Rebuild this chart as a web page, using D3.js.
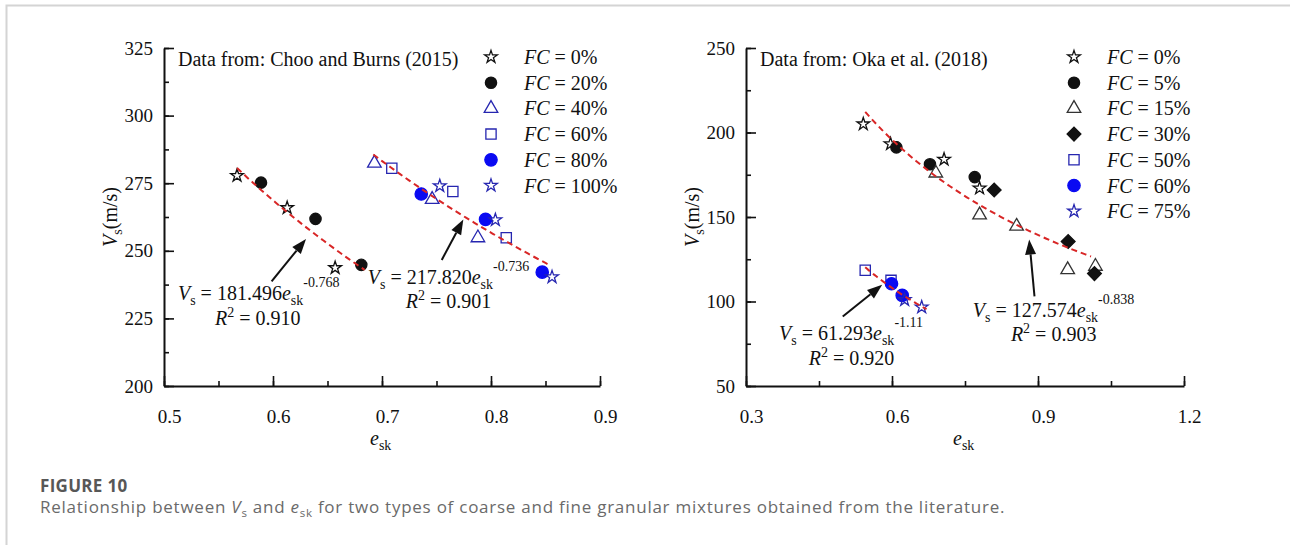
<!DOCTYPE html>
<html>
<head>
<meta charset="utf-8">
<script src="https://cdn.jsdelivr.net/npm/d3@7"></script>
<style>
  body { margin: 0; background: #fff; }
  svg text { font-family: "Liberation Serif", "Times New Roman", serif; fill: #111; }
  svg text.cap { font-family: "Open Sans", Lato, sans-serif; }
</style>
</head>
<body>
<svg id="fig" width="1290" height="545"></svg>
<script>
// Choo and Burns (2015) -- [e_sk, Vs (m/s)]
var chooFC0   = [[0.567, 277.8], [0.613, 265.9], [0.657, 243.7]];
var chooFC20  = [[0.589, 275.2], [0.639, 261.8], [0.681, 244.8]];
var chooFC40  = [[0.693, 282.4], [0.746, 269.0], [0.788, 254.8]];
var chooFC60  = [[0.709, 280.5], [0.765, 271.9], [0.814, 254.8]];
var chooFC80  = [[0.736, 271.0], [0.795, 261.6], [0.847, 242.1]];
var chooFC100 = [[0.753, 274.0], [0.804, 261.4], [0.856, 240.3]];
var chooLabels = ["0%", "20%", "40%", "60%", "80%", "100%"];

// Oka et al. (2018)
var okaFC0  = [[0.541, 205.0], [0.597, 193.2], [0.707, 184.1], [0.780, 167.0]];
var okaFC5  = [[0.609, 191.2], [0.678, 181.2], [0.770, 173.6]];
var okaFC15 = [[0.690, 176.0], [0.780, 151.2], [0.856, 144.5], [0.961, 118.8], [1.018, 120.8]];
var okaFC30 = [[0.810, 166.0], [0.962, 135.5], [1.016, 116.5]];
var okaFC50 = [[0.545, 118.5], [0.598, 112.5]];
var okaFC60 = [[0.599, 110.5], [0.621, 103.6]];
var okaFC75 = [[0.626, 101.0], [0.661, 96.6]];
var okaLabels = ["0%", "5%", "15%", "30%", "50%", "60%", "75%"];

// power fits Vs = a * e^b over the fitted range of e
var chooFits = [
  {a: 181.496, b: -0.768, r2: 0.910, from: 0.567, to: 0.684},
  {a: 217.820, b: -0.736, r2: 0.901, from: 0.692, to: 0.854}
];
var okaFits = [
  {a: 127.574, b: -0.838, r2: 0.903, from: 0.545, to: 1.009},
  {a: 61.293,  b: -1.11,  r2: 0.920, from: 0.545, to: 0.671}
];

var xTicksChoo = [0.5, 0.6, 0.7, 0.8, 0.9];
var yTicksChoo = [200, 225, 250, 275, 300, 325];
var xTicksOka = [0.3, 0.6, 0.9, 1.2];
var yTicksOka = [50, 100, 150, 200, 250];

var BLUE = "#0a0af2", NAVY = "#2626b0", INK = "#111";

var svg = d3.select("#fig");
svg.append("rect").attr("width", 1290).attr("height", 545).attr("fill", "#fff");

// page frame
svg.append("path")
  .attr("d", "M6.5,545V5.5H1290")
  .attr("fill", "none").attr("stroke", "#d4d4d4").attr("stroke-width", 2);

var panels = [
  {
    left: 164, right: 600, top: 48, bottom: 386,
    xDomain: [0.5, 0.9], yDomain: [200, 325],
    xTicks: xTicksChoo, yTicks: yTicksChoo, xStep: 0.05, yStep: 12.5,
    title: "Data from: Choo and Burns (2015)",
    legendX: 491, legendY: 57,
    labels: chooLabels,
    series: [
      {data: chooFC0,   shape: "star",     fill: "#fff", stroke: INK},
      {data: chooFC20,  shape: "circle",   fill: INK,    stroke: INK},
      {data: chooFC40,  shape: "triangle", fill: "none", stroke: NAVY},
      {data: chooFC60,  shape: "square",   fill: "none", stroke: NAVY},
      {data: chooFC80,  shape: "circle",   fill: BLUE,   stroke: BLUE},
      {data: chooFC100, shape: "star",     fill: "none", stroke: NAVY}
    ],
    fits: chooFits,
    // equation anchor, R2 anchor, arrow tail, arrow head (data units)
    notes: [
      {eq: [0.5128, 231.8], r2: [0.5468, 222.6], tail: [0.5987, 238.7], head: [0.6303, 254.4]},
      {eq: [0.6869, 237.9], r2: [0.7219, 228.7], tail: [0.7548, 246.6], head: [0.7746, 261.6]}
    ]
  },
  {
    left: 746, right: 1184, top: 48, bottom: 386,
    xDomain: [0.3, 1.2], yDomain: [50, 250],
    xTicks: xTicksOka, yTicks: yTicksOka, xStep: 0.15, yStep: 25,
    title: "Data from: Oka et al. (2018)",
    legendX: 1074, legendY: 57,
    labels: okaLabels,
    series: [
      {data: okaFC0,  shape: "star",     fill: "#fff", stroke: INK},
      {data: okaFC5,  shape: "circle",   fill: INK,    stroke: INK},
      {data: okaFC15, shape: "triangle", fill: "none", stroke: "#333"},
      {data: okaFC30, shape: "diamond",  fill: INK,    stroke: INK},
      {data: okaFC50, shape: "square",   fill: "none", stroke: NAVY},
      {data: okaFC60, shape: "circle",   fill: BLUE,   stroke: BLUE},
      {data: okaFC75, shape: "star",     fill: "none", stroke: NAVY}
    ],
    fits: okaFits,
    notes: [
      {eq: [0.766, 91.1], r2: [0.8443, 76.4], tail: [0.8928, 103.0], head: [0.8819, 136.7]},
      {eq: [0.368, 77.2], r2: [0.4289, 62.5], tail: [0.4988, 91.1], head: [0.5798, 109.9]}
    ]
  }
];

var shapes = {
  star: [d3.symbolStar, 50],
  circle: [d3.symbolCircle, 100],
  triangle: [d3.symbolTriangle, 80],
  square: [d3.symbolSquare, 105],
  diamond: [d3.symbolSquare, 95]
};

function marker(g, s, cx, cy) {
  var def = shapes[s.shape];
  var size = def[1] * (s.fill === BLUE ? 1.2 : 1);
  g.append("path")
    .attr("d", d3.symbol().type(def[0]).size(size)())
    .attr("transform", "translate(" + cx + "," + cy + ")" + (s.shape === "diamond" ? " rotate(45)" : ""))
    .attr("fill", s.fill)
    .attr("stroke", s.stroke)
    .attr("stroke-width", 1.3);
}

// text built from runs: {t, i: italic, sub, sup}
function richText(g, x, y, runs, size) {
  var t = g.append("text").attr("x", x).attr("y", y).attr("font-size", size);
  var shift = 0;
  runs.forEach(function(r) {
    var target = r.sub ? size * 0.26 : r.sup ? -r.sup : 0;
    var ts = t.append("tspan").text(r.t).attr("dy", target - shift);
    shift = target;
    if (r.i) ts.attr("font-style", "italic");
    if (r.sub || r.sup) ts.attr("font-size", size * 0.7);
  });
  return t;
}

function arrow(g, x0, y0, x1, y1) {
  var a = Math.atan2(y1 - y0, x1 - x0), len = 15, w = 5.5;
  var bx = x1 - len * Math.cos(a), by = y1 - len * Math.sin(a);
  g.append("line").attr("x1", x0).attr("y1", y0).attr("x2", bx).attr("y2", by)
    .attr("stroke", INK).attr("stroke-width", 2);
  g.append("path")
    .attr("d", "M" + x1 + "," + y1 +
      "L" + (bx + w * Math.sin(a)) + "," + (by - w * Math.cos(a)) +
      "L" + (bx - w * Math.sin(a)) + "," + (by + w * Math.cos(a)) + "Z")
    .attr("fill", INK);
}

panels.forEach(function(p) {
  var g = svg.append("g");
  var x = d3.scaleLinear().domain(p.xDomain).range([p.left, p.right]);
  var y = d3.scaleLinear().domain(p.yDomain).range([p.bottom, p.top]);

  var xMinor = d3.range(p.xDomain[0], p.xDomain[1] + 1e-9, p.xStep);
  var yMinor = d3.range(p.yDomain[0], p.yDomain[1] + 1e-9, p.yStep);

  function styleAxis(a) {
    a.attr("font-family", null).attr("font-size", 19);
    a.select(".domain").attr("stroke", INK).attr("stroke-width", 2);
    a.selectAll(".tick line").attr("stroke", INK).attr("stroke-width", 1.6);
    a.selectAll(".tick text").attr("fill", INK);
  }

  // minor ticks first, then labelled major ticks
  g.append("g").attr("transform", "translate(0," + p.bottom + ")")
    .call(d3.axisBottom(x).tickValues(xMinor).tickSizeInner(-5).tickSizeOuter(0).tickFormat(""))
    .call(styleAxis).select(".domain").remove();
  g.append("g").attr("transform", "translate(" + p.left + ",0)")
    .call(d3.axisLeft(y).tickValues(yMinor).tickSizeInner(-5).tickSizeOuter(0).tickFormat(""))
    .call(styleAxis).select(".domain").remove();

  var xa = g.append("g").attr("transform", "translate(0," + p.bottom + ")")
    .call(d3.axisBottom(x).tickValues(p.xTicks).tickSizeInner(-10).tickSizeOuter(0)
      .tickPadding(24).tickFormat(d3.format(".1f")))
    .call(styleAxis);
  xa.selectAll(".tick text").attr("dx", 5);

  g.append("g").attr("transform", "translate(" + p.left + ",0)")
    .call(d3.axisLeft(y).tickValues(p.yTicks).tickSizeInner(-10).tickSizeOuter(0)
      .tickPadding(11).tickFormat(d3.format("d")))
    .call(styleAxis);

  // axis titles
  var cx = (p.left + p.right) / 2;
  richText(g, cx - 12, p.bottom + 59, [{t: "e", i: true}, {t: "sk", sub: true}], 20);
  richText(g, 0, 0, [{t: "V", i: true}, {t: "s", sub: true}, {t: "(m/s)"}], 20)
    .attr("text-anchor", "middle")
    .attr("transform", "translate(" + (p.left - 47) + "," + ((p.top + p.bottom) / 2) + ") rotate(-90)");

  g.append("text").attr("x", p.left + 14).attr("y", p.top + 18)
    .attr("font-size", 20).text(p.title);

  // data markers
  p.series.forEach(function(s) {
    s.data.forEach(function(d) { marker(g, s, x(d[0]), y(d[1])); });
  });

  // fitted power curves
  var line = d3.line().x(function(d) { return x(d[0]); }).y(function(d) { return y(d[1]); });
  p.fits.forEach(function(f) {
    var pts = d3.range(0, 41).map(function(i) {
      var e = f.from + (f.to - f.from) * i / 40;
      return [e, f.a * Math.pow(e, f.b)];
    });
    g.append("path").attr("d", line(pts))
      .attr("fill", "none").attr("stroke", "#d82626").attr("stroke-width", 2)
      .attr("stroke-dasharray", "6,4");
  });

  // equations with arrows
  p.fits.forEach(function(f, i) {
    var n = p.notes[i];
    richText(g, x(n.eq[0]), y(n.eq[1]), [
      {t: "V", i: true}, {t: "s", sub: true}, {t: " = " + f.a.toFixed(3)},
      {t: "e", i: true}, {t: "sk", sub: true}, {t: String(f.b), sup: 13}
    ], 20);
    richText(g, x(n.r2[0]), y(n.r2[1]), [
      {t: "R", i: true}, {t: "2", sup: 8}, {t: " = " + f.r2.toFixed(3)}
    ], 20);
    arrow(g, x(n.tail[0]), y(n.tail[1]), x(n.head[0]), y(n.head[1]));
  });

  // legend
  p.series.forEach(function(s, i) {
    var ly = p.legendY + i * 25.7;
    marker(g, s, p.legendX, ly);
    richText(g, p.legendX + 33, ly + 7, [{t: "FC", i: true}, {t: " = " + p.labels[i]}], 20);
  });
});

// caption
var cap = svg.append("g");
cap.append("text").attr("class", "cap").attr("x", 40).attr("y", 492)
  .attr("font-size", 17).attr("font-weight", "bold").attr("letter-spacing", 0.3)
  .style("fill", "#575757").text("FIGURE 10");
var capText = cap.append("text").attr("class", "cap").attr("x", 40).attr("y", 513)
  .attr("font-size", 17).attr("letter-spacing", 0.75).style("fill", "#6a6a6a");
[["Relationship between "], ["V", "i"], ["s", "sub"], [" and "], ["e", "i"], ["sk", "sub"],
 [" for two types of coarse and fine granular mixtures obtained from the literature."]]
  .forEach(function(r, i, arr) {
    var ts = capText.append("tspan").text(r[0]);
    if (r[1] === "i") ts.attr("font-style", "italic");
    if (r[1] === "sub") ts.attr("font-size", 11.5).attr("dy", 4);
    else if (i > 0 && arr[i - 1][1] === "sub") ts.attr("dy", -4);
  });
</script>
</body>
</html>
